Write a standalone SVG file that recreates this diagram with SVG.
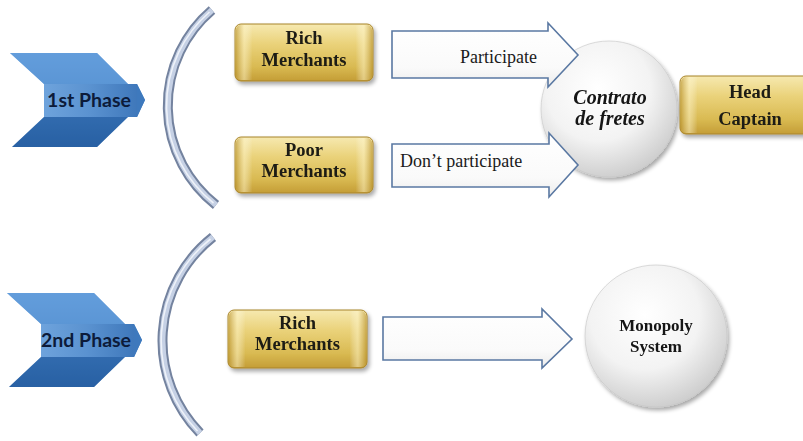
<svg xmlns="http://www.w3.org/2000/svg" width="803" height="441" viewBox="0 0 803 441">
<defs>
  <linearGradient id="gold" x1="0" y1="0" x2="0" y2="1">
    <stop offset="0" stop-color="#f6e9b0"/>
    <stop offset="0.35" stop-color="#ead27a"/>
    <stop offset="0.75" stop-color="#d9ba52"/>
    <stop offset="1" stop-color="#c49d36"/>
  </linearGradient>
  <linearGradient id="goldSide" x1="0" y1="0" x2="1" y2="0">
    <stop offset="0" stop-color="#b89230" stop-opacity="0.6"/>
    <stop offset="0.06" stop-color="#fff6cc" stop-opacity="0.5"/>
    <stop offset="0.12" stop-color="#ffffff" stop-opacity="0"/>
    <stop offset="0.88" stop-color="#ffffff" stop-opacity="0"/>
    <stop offset="0.94" stop-color="#fff6cc" stop-opacity="0.5"/>
    <stop offset="1" stop-color="#b89230" stop-opacity="0.6"/>
  </linearGradient>
  <linearGradient id="blueOuter" x1="0" y1="0" x2="0" y2="1">
    <stop offset="0" stop-color="#5b97d8"/>
    <stop offset="0.45" stop-color="#4582c6"/>
    <stop offset="1" stop-color="#2d66aa"/>
  </linearGradient>
  <linearGradient id="blueFace" x1="0" y1="0" x2="1" y2="0">
    <stop offset="0" stop-color="#6ea3dc"/>
    <stop offset="0.5" stop-color="#5a92d0"/>
    <stop offset="1" stop-color="#3f78bb"/>
  </linearGradient>
  <radialGradient id="ball" cx="0.42" cy="0.35" r="0.7">
    <stop offset="0" stop-color="#ffffff"/>
    <stop offset="0.55" stop-color="#f3f3f3"/>
    <stop offset="1" stop-color="#c9c9c9"/>
  </radialGradient>
  <linearGradient id="arrowFill" x1="0" y1="0" x2="0" y2="1">
    <stop offset="0" stop-color="#ffffff"/>
    <stop offset="0.7" stop-color="#fafafa"/>
    <stop offset="1" stop-color="#ebebeb"/>
  </linearGradient>
  <filter id="shadow" x="-20%" y="-20%" width="150%" height="160%">
    <feGaussianBlur in="SourceAlpha" stdDeviation="2"/>
    <feOffset dx="1.5" dy="2.5" result="b"/>
    <feComponentTransfer><feFuncA type="linear" slope="0.35"/></feComponentTransfer>
    <feMerge><feMergeNode/><feMergeNode in="SourceGraphic"/></feMerge>
  </filter>
  <g id="chevron">
    <polygon points="10,53 97,53 128,84 137,84 145,100 137,117 128,117 97,147 12,147 44,117 44,84" fill="url(#blueOuter)"/>
    <polygon points="10,53 97,53 128,84 44,84" fill="#6aa2de" opacity="0.55"/>
    <polygon points="12,147 44,117 128,117 97,147" fill="#1f5597" opacity="0.35"/>
    <rect x="44" y="84" width="93" height="33" fill="url(#blueFace)"/>
    <polygon points="137,84 145,100 137,117" fill="#3e79bd"/>
  </g>
</defs>
<style>
  .box { fill: url(#gold); stroke: #a8842c; stroke-width: 1; }
  .boxside { fill: url(#goldSide); }
  .boxtxt { font-family: "Liberation Serif", "Times New Roman", serif; font-weight: bold; font-size: 18.5px; fill: #1c1a12; text-anchor: middle; }
  .phase { font-family: Lato, "Liberation Sans", sans-serif; font-weight: bold; font-size: 19.5px; fill: #0c1b3a; text-anchor: middle; }
  .arrow { fill: url(#arrowFill); stroke: #5a78a2; stroke-width: 1.6; stroke-linejoin: miter; }
  .arrowtxt { font-family: "Liberation Serif", "Times New Roman", serif; font-size: 18px; fill: #1a1a1a; }
  .ball { fill: url(#ball); stroke: #c4c4c4; stroke-width: 0.6; }
  .balltxt { font-family: "Liberation Serif", "Times New Roman", serif; font-weight: bold; fill: #141414; text-anchor: middle; }
  .arcOuter { fill: none; stroke: #74839f; stroke-width: 10; stroke-linecap: butt; }
  .arcInner { fill: none; stroke: #c6d1e5; stroke-width: 6; stroke-linecap: butt; }
  .arcHi { fill: none; stroke: #eef2f9; stroke-width: 1.6; stroke-linecap: butt; }
</style>

<rect width="803" height="441" fill="#ffffff"/>

<g id="brackets">
  <path class="arcOuter" d="M212,10 A126,126 0 0 0 216,205"/>
  <path class="arcInner" d="M212,10 A126,126 0 0 0 216,205"/>
  <path class="arcHi" d="M209.5,12 A124,124 0 0 0 213.5,203"/>
  <path class="arcOuter" d="M213,237 A132,132 0 0 0 200,433"/>
  <path class="arcInner" d="M213,237 A132,132 0 0 0 200,433"/>
  <path class="arcHi" d="M210.5,239 A130,130 0 0 0 197.5,431"/>
</g>

<g id="phase1">
  <use href="#chevron"/>
  <text class="phase" x="89" y="107">1st Phase</text>
</g>
<g id="phase2">
  <use href="#chevron" transform="translate(-3,240)"/>
  <text class="phase" x="86" y="347">2nd Phase</text>
</g>

<g id="rich1" filter="url(#shadow)">
  <rect class="box" x="235" y="24" width="138" height="57" rx="6"/>
  <rect class="boxside" x="236" y="25" width="136" height="55" rx="5"/>
  <text class="boxtxt" x="304" y="44">Rich</text>
  <text class="boxtxt" x="304" y="66">Merchants</text>
</g>

<g id="poor" filter="url(#shadow)">
  <rect class="box" x="235" y="137" width="138" height="56" rx="6"/>
  <rect class="boxside" x="236" y="138" width="136" height="54" rx="5"/>
  <text class="boxtxt" x="304" y="156">Poor</text>
  <text class="boxtxt" x="304" y="177">Merchants</text>
</g>

<g id="rich2" filter="url(#shadow)">
  <rect class="box" x="228" y="310" width="139" height="58" rx="6"/>
  <rect class="boxside" x="229" y="311" width="137" height="56" rx="5"/>
  <text class="boxtxt" x="297.5" y="329">Rich</text>
  <text class="boxtxt" x="297.5" y="350">Merchants</text>
</g>

<g id="contrato" filter="url(#shadow)">
  <circle class="ball" cx="609" cy="109" r="68"/>
  <text class="balltxt" x="610" y="104" font-size="20" font-style="italic">Contrato</text>
  <text class="balltxt" x="610" y="125" font-size="20" font-style="italic">de fretes</text>
</g>

<g id="headcaptain" filter="url(#shadow)">
  <rect class="box" x="680" y="76" width="140" height="58" rx="6"/>
  <rect class="boxside" x="681" y="77" width="138" height="56" rx="5"/>
  <text class="boxtxt" x="750" y="98" font-size="19">Head</text>
  <text class="boxtxt" x="750" y="125" font-size="19">Captain</text>
</g>

<g id="monopoly" filter="url(#shadow)">
  <circle class="ball" cx="656" cy="336" r="71"/>
  <text class="balltxt" x="656" y="331" font-size="17">Monopoly</text>
  <text class="balltxt" x="656" y="352" font-size="17">System</text>
</g>

<g id="connectors">
  <g id="arrow-participate">
    <path class="arrow" d="M392,31 L548,31 L548,23 L578,55 L548,87 L548,78 L392,78 Z"/>
    <text class="arrowtxt" x="537" y="63" text-anchor="end" font-size="19">Participate</text>
  </g>
  <g id="arrow-dont">
    <path class="arrow" d="M392,144 L549,144 L549,133 L578,165 L549,197 L549,187 L392,187 Z"/>
    <text class="arrowtxt" x="400" y="167">Don’t participate</text>
  </g>
  <g id="arrow-phase2">
    <path class="arrow" d="M383,317 L542,317 L542,309 L572,339 L542,368 L542,360 L383,360 Z"/>
  </g>
</g>
</svg>
